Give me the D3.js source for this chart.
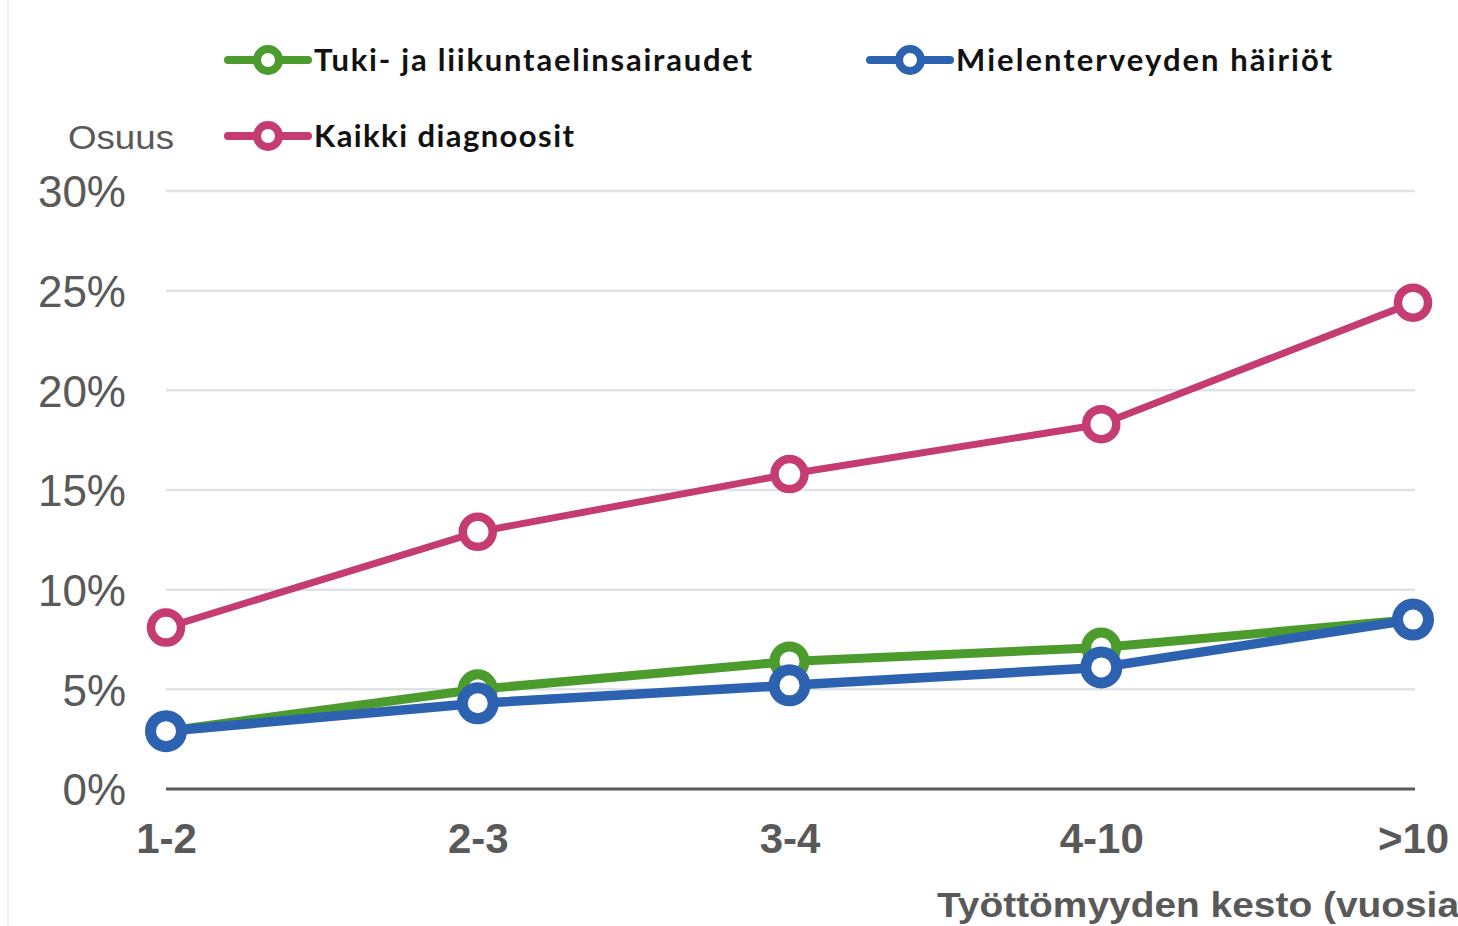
<!DOCTYPE html>
<html>
<head>
<meta charset="utf-8">
<script src="https://cdn.jsdelivr.net/npm/d3@7"></script>
<style>
  html, body { margin: 0; padding: 0; background: #fff; }
  svg { display: block; }
</style>
</head>
<body>
<div id="chart"></div>
<script>
// categories (unemployment duration, years)
var categories = ["1-2", "2-3", "3-4", "4-10", ">10"];
// share (%)
var tukiValues = [2.9, 5.0, 6.4, 7.1, 8.5];
var mielenValues = [2.9, 4.3, 5.2, 6.1, 8.5];
var kaikkiValues = [8.1, 12.9, 15.8, 18.3, 24.4];
var yTicks = [0, 5, 10, 15, 20, 25, 30];

var W = 1458, H = 926;
var svg = d3.select("#chart").append("svg")
  .attr("width", W).attr("height", H);

// faint frame at the left edge
svg.append("line")
  .attr("x1", 8).attr("x2", 8).attr("y1", 0).attr("y2", H)
  .attr("stroke", "#eceef0").attr("stroke-width", 1.5);

var x = d3.scalePoint().domain(categories).range([166, 1413]);
var y = d3.scaleLinear().domain([0, 30]).range([789, 191]);

// gridlines
svg.append("g")
  .selectAll("line")
  .data(yTicks.filter(function (d) { return d > 0; }))
  .enter().append("line")
  .attr("x1", 166).attr("x2", 1415)
  .attr("y1", function (d) { return y(d); })
  .attr("y2", function (d) { return y(d); })
  .attr("stroke", "#dfe3e7").attr("stroke-width", 2.5);

// y axis labels
var yAxis = svg.append("g")
  .attr("transform", "translate(166,0)")
  .call(d3.axisLeft(y).tickValues(yTicks).tickFormat(function (d) { return d + "%"; }).tickSize(0).tickPadding(40));
yAxis.select(".domain").remove();
yAxis.selectAll("text")
  .attr("font-family", "'Liberation Sans', Arial, sans-serif")
  .attr("font-size", 44)
  .attr("fill", "#595959")
  .attr("dy", "0.36em");

// x axis
var xAxis = svg.append("g")
  .attr("transform", "translate(0,789)")
  .call(d3.axisBottom(x).tickSize(0).tickPadding(34));
xAxis.select(".domain").remove();
xAxis.selectAll("text")
  .attr("font-family", "'Liberation Sans', Arial, sans-serif")
  .attr("font-weight", "bold")
  .attr("font-size", 42)
  .attr("fill", "#595959")
  .attr("dy", "0.71em");
svg.append("line")
  .attr("x1", 166).attr("x2", 1415).attr("y1", 789).attr("y2", 789)
  .attr("stroke", "#595959").attr("stroke-width", 3);

// axis titles
svg.append("text")
  .attr("x", 937).attr("y", 917)
  .attr("font-family", "'Liberation Sans', Arial, sans-serif")
  .attr("font-weight", "bold")
  .attr("font-size", 35)
  .attr("fill", "#595959")
  .attr("textLength", 535)
  .attr("lengthAdjust", "spacingAndGlyphs")
  .text("Työttömyyden kesto (vuosia)");

svg.append("text")
  .attr("x", 68).attr("y", 149)
  .attr("font-family", "'Liberation Sans', Arial, sans-serif")
  .attr("font-size", 34)
  .attr("fill", "#595959")
  .attr("textLength", 106)
  .attr("lengthAdjust", "spacingAndGlyphs")
  .text("Osuus");

var series = [
  { name: "Kaikki diagnoosit", values: kaikkiValues, color: "#c43c72", lw: 7, r: 15, sw: 8.5 },
  { name: "Tuki- ja liikuntaelinsairaudet", values: tukiValues, color: "#4b9b2d", lw: 9, r: 15, sw: 10 },
  { name: "Mielenterveyden häiriöt", values: mielenValues, color: "#2c62b0", lw: 9.5, r: 15.5, sw: 11 }
];

var line = d3.line()
  .x(function (d, i) { return x(categories[i]); })
  .y(function (d) { return y(d); });

series.forEach(function (s) {
  svg.append("path")
    .datum(s.values)
    .attr("d", line)
    .attr("fill", "none")
    .attr("stroke", s.color)
    .attr("stroke-width", s.lw)
    .attr("stroke-linejoin", "round");
});
series.forEach(function (s) {
  svg.append("g")
    .selectAll("circle")
    .data(s.values)
    .enter().append("circle")
    .attr("cx", function (d, i) { return x(categories[i]); })
    .attr("cy", function (d) { return y(d); })
    .attr("r", s.r)
    .attr("fill", "#fff")
    .attr("stroke", s.color)
    .attr("stroke-width", s.sw);
});

// legend
var legendItems = [
  { s: series[1], x: 228, y: 60, len: 438 },
  { s: series[2], x: 870, y: 60, len: 376 },
  { s: series[0], x: 228, y: 136, len: 260 }
];
legendItems.forEach(function (it) {
  var g = svg.append("g");
  g.append("line")
    .attr("x1", it.x).attr("x2", it.x + 80)
    .attr("y1", it.y).attr("y2", it.y)
    .attr("stroke", it.s.color).attr("stroke-width", 8)
    .attr("stroke-linecap", "round");
  g.append("circle")
    .attr("cx", it.x + 40).attr("cy", it.y).attr("r", 11)
    .attr("fill", "#fff").attr("stroke", it.s.color).attr("stroke-width", 8);
  g.append("text")
    .attr("x", it.x + 86).attr("y", it.y + 11)
    .attr("font-family", "Lato, 'Open Sans', sans-serif")
    .attr("font-weight", "bold")
    .attr("font-size", 31)
    .attr("fill", "#111")
    .attr("textLength", it.len)
    .attr("lengthAdjust", "spacing")
    .text(it.s.name);
});
</script>
</body>
</html>
